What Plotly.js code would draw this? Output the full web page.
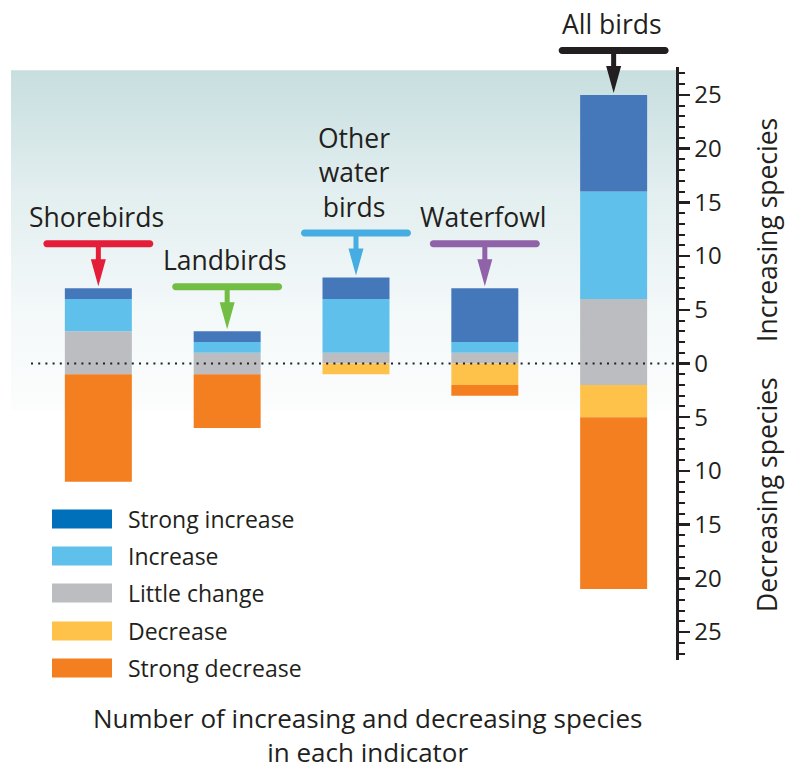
<!DOCTYPE html>
<html>
<head>
<meta charset="utf-8">
<script src="https://cdn.plot.ly/plotly-3.0.1.min.js"></script>
<style>
  html, body { margin: 0; padding: 0; background: #ffffff; }
  #chart { width: 785px; height: 773px; }
</style>
</head>
<body>
<div id="chart"></div>
<script>
// ---------------- DATA ----------------
const categories = ['Shorebirds', 'Landbirds', 'Other water birds', 'Waterfowl', 'All birds'];
const categoryLabels = ['Shorebirds', 'Landbirds', 'Other<br>water<br>birds', 'Waterfowl', 'All birds'];
const strongIncrease = [1, 1, 2, 5, 9];
const increase = [3, 1, 5, 1, 10];
const littleChange = [4, 2, 1, 1, 8];
const littleChangeBelowZero = [1, 1, 0, 0, 2];
const decrease = [0, 0, 1, 2, 3];
const strongDecrease = [10, 5, 0, 1, 16];
const seriesNames = ['Strong increase', 'Increase', 'Little change', 'Decrease', 'Strong decrease'];
const tickValues = [-25, -20, -15, -10, -5, 0, 5, 10, 15, 20, 25];
const tickLabels = ['25', '20', '15', '10', '5', '0', '5', '10', '15', '20', '25'];

// ---------------- STYLE ----------------
const barColors = ['#4577bb', '#5fc0ec', '#bcbdc0', '#fec24b', '#f47f20'];
const legendColors = ['#0070bb', '#5fc0ec', '#bcbdc0', '#fec24b', '#f47f20'];
const arrowColors = ['#e41e38', '#72bd44', '#46ade2', '#9063a8', '#231f20'];
const textColor = '#231f20';
const FONT = '"Open Sans", "Noto Sans", sans-serif';

const W = 785, H = 773;
const M = { l: 11, r: 109, t: 67, b: 113 };
const PW = W - M.l - M.r, PH = H - M.t - M.b;
const px2x = px => (px - M.l) / PW;
const py2y = py => (H - M.b - py) / PH;
const X_RANGE = [-0.678, 4.484];
const Y_RANGE = [-27.6, 27.6];
const xFrac = v => (v - X_RANGE[0]) / (X_RANGE[1] - X_RANGE[0]);
const yFrac = v => (v - Y_RANGE[0]) / (Y_RANGE[1] - Y_RANGE[0]);

// ---------------- DERIVED ----------------
const n = categories.length;
const lcBase = littleChangeBelowZero.map(v => -v);
const incBase = littleChange.map((v, i) => v - littleChangeBelowZero[i]);
const siBase = incBase.map((v, i) => v + increase[i]);
const topValue = siBase.map((v, i) => v + strongIncrease[i]);
const decBase = lcBase.slice();
const sdBase = lcBase.map((v, i) => v - decrease[i]);

const barWidth = 0.52;
function barTrace(name, y, base, color) {
  return {
    type: 'bar', name: name, x: categories, y: y, base: base,
    xaxis: 'x2', yaxis: 'y', width: barWidth,
    marker: { color: color, line: { width: 0 } },
    showlegend: false, hoverinfo: 'skip'
  };
}

const traces = [
  // background gradient (own hidden x axis, below bars)
  {
    type: 'scatter', mode: 'lines', xaxis: 'x', yaxis: 'y',
    x: [0, 1, 1, 0, 0], y: [27.3, 27.3, -4.4, -4.4, 27.3],
    fill: 'toself', line: { width: 0, color: 'rgba(0,0,0,0)' },
    fillgradient: { type: 'vertical', colorscale: [[0, '#fcfdfd'], [0.3, '#f3f8f9'], [0.65, '#e2eeef'], [1, '#c7dedf']] },
    showlegend: false, hoverinfo: 'skip'
  },
  barTrace(seriesNames[2], littleChange, lcBase, barColors[2]),
  barTrace(seriesNames[1], increase, incBase, barColors[1]),
  barTrace(seriesNames[0], strongIncrease, siBase, barColors[0]),
  barTrace(seriesNames[3], decrease.map(v => -v), decBase, barColors[3]),
  barTrace(seriesNames[4], strongDecrease.map(v => -v), sdBase, barColors[4])
];

// ---------------- ARROWS (pixel-sized shapes anchored at bar tops) ----------------
function arrowPath() {
  const hx = 55, hy0 = 41, hy1 = 48, r = 3.5, k = 1.93;
  const cy = (hy0 + hy1) / 2;
  let p = '';
  p += `M ${-hx + r},${hy1} L ${hx - r},${hy1} `;
  p += `C ${hx - r + k},${hy1} ${hx},${cy + k} ${hx},${cy} `;
  p += `C ${hx},${cy - k} ${hx - r + k},${hy0} ${hx - r},${hy0} `;
  p += `L 2.5,${hy0} L 2.5,29 L 7.5,29 L 0,2 L -7.5,29 L -2.5,29 L -2.5,${hy0} `;
  p += `L ${-hx + r},${hy0} `;
  p += `C ${-hx + r - k},${hy0} ${-hx},${cy - k} ${-hx},${cy} `;
  p += `C ${-hx},${cy + k} ${-hx + r - k},${hy1} ${-hx + r},${hy1} Z`;
  return p;
}

const shapes = [];
const annotations = [];
for (let i = 0; i < n; i++) {
  shapes.push({
    type: 'path', xref: 'paper', yref: 'paper',
    xsizemode: 'pixel', ysizemode: 'pixel',
    xanchor: xFrac(i), yanchor: yFrac(topValue[i]),
    path: arrowPath(),
    fillcolor: arrowColors[i], line: { width: 0 }, layer: 'above'
  });
  annotations.push({
    xref: 'x2', yref: 'y', x: i, y: topValue[i],
    xanchor: 'center', yanchor: 'bottom', yshift: 51, xshift: -2,
    text: categoryLabels[i], showarrow: false,
    font: { family: FONT, size: 26.5, color: textColor }
  });
}

// zero dotted line
shapes.push({
  type: 'line', xref: 'paper', yref: 'y', x0: px2x(31), x1: 1, y0: 0, y1: 0,
  line: { color: textColor, width: 2, dash: '2px,5.2px' }, layer: 'above'
});

// legend (manual, to match swatch size)
const legendRowsY = [519, 556, 593, 631, 668];
for (let k = 0; k < seriesNames.length; k++) {
  const cy = legendRowsY[k];
  shapes.push({
    type: 'rect', xref: 'paper', yref: 'paper',
    x0: px2x(52), x1: px2x(112), y0: py2y(cy + 9.5), y1: py2y(cy - 9.5),
    fillcolor: legendColors[k], line: { width: 0 }, layer: 'above'
  });
  annotations.push({
    xref: 'paper', yref: 'paper', x: px2x(126), y: py2y(cy),
    xanchor: 'left', yanchor: 'middle', text: seriesNames[k], showarrow: false,
    font: { family: FONT, size: 23, color: textColor }
  });
}

// bottom title
annotations.push({
  xref: 'paper', yref: 'paper', x: px2x(367), y: py2y(772),
  xanchor: 'center', yanchor: 'bottom', align: 'center', showarrow: false,
  text: 'Number of increasing and decreasing species<br>in each indicator',
  font: { family: FONT, size: 26, color: textColor }
});
// right-side titles
annotations.push({
  xref: 'paper', yref: 'paper', x: px2x(767), y: py2y(230),
  xanchor: 'center', yanchor: 'middle', textangle: -90, showarrow: false,
  text: 'Increasing species', font: { family: FONT, size: 26.5, color: textColor }
});
annotations.push({
  xref: 'paper', yref: 'paper', x: px2x(767), y: py2y(495),
  xanchor: 'center', yanchor: 'middle', textangle: -90, showarrow: false,
  text: 'Decreasing species', font: { family: FONT, size: 26.5, color: textColor }
});

const layout = {
  width: W, height: H,
  margin: { l: M.l, r: M.r, t: M.t, b: M.b, pad: 0 },
  paper_bgcolor: '#ffffff', plot_bgcolor: 'rgba(0,0,0,0)',
  font: { family: FONT, size: 24, color: textColor },
  barmode: 'overlay',
  showlegend: false,
  xaxis: { range: [0, 1], visible: false, fixedrange: true },
  xaxis2: {
    type: 'category', categoryorder: 'array', categoryarray: categories,
    overlaying: 'x', range: X_RANGE, visible: false, fixedrange: true
  },
  yaxis: {
    side: 'right', range: Y_RANGE, fixedrange: true,
    showgrid: false, zeroline: false,
    showline: true, linecolor: textColor, linewidth: 2.5,
    tickmode: 'array', tickvals: tickValues, ticktext: tickLabels,
    ticks: 'outside', ticklen: 11, tickwidth: 2.5, tickcolor: textColor,
    tickfont: { family: FONT, size: 24, color: textColor },
    minor: { dtick: 1, tick0: 0, ticks: 'outside', ticklen: 6, tickwidth: 2, tickcolor: textColor, showgrid: false }
  },
  shapes: shapes,
  annotations: annotations
};

Plotly.newPlot('chart', traces, layout, { displayModeBar: false, staticPlot: true });
</script>
</body>
</html>
